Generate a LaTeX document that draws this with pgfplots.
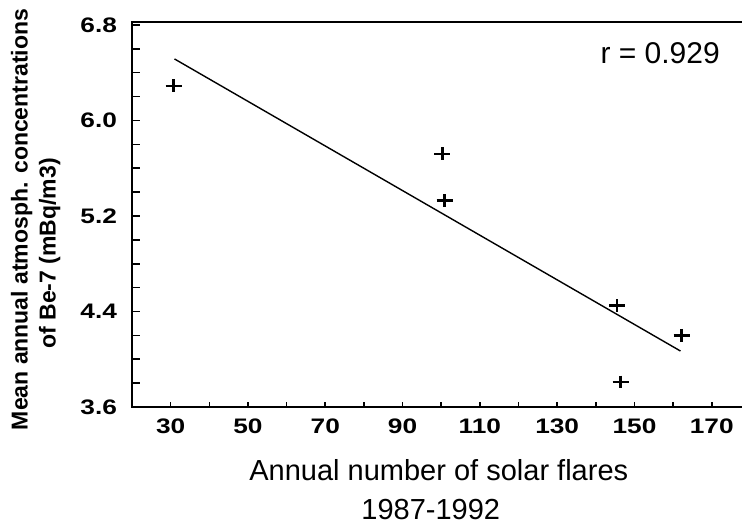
\documentclass[border=0pt]{standalone}
\usepackage{fontspec}
\setmainfont{Liberation Sans}
\newfontfamily\ticfont{Liberation Sans}[FakeStretch=1.25]
\usepackage{pgfplots}
\pgfplotsset{compat=1.18}
\begin{document}
\begin{tikzpicture}
\path[use as bounding box] (-66pt,-59.5pt) rectangle (305pt,203.5pt);
\begin{axis}[
  x=1.9325pt, y=59.7pt,
  xmin=20, xmax=182, ymin=3.6, ymax=6.825,
  axis line style={line width=1pt},
  xtick={30,50,70,90,110,130,150,170},
  xticklabels={30,50,70,90,110,130,150,170},
  minor xtick={40,60,80,100,120,140,160,180},
  ytick={3.6,4.4,5.2,6.0,6.8},
  yticklabels={3.6,4.4,5.2,6.0,6.8},
  minor ytick={3.8,4.0,4.2,4.6,4.8,5.0,5.4,5.6,5.8,6.2,6.4,6.6},
  xtick pos=bottom, ytick pos=left,
  tick align=inside,
  major tick length=4pt, minor tick length=4pt,
  xtick style={/pgfplots/major tick length=2.5pt, /pgfplots/minor tick length=2.5pt},
  tick style={line width=0.8pt, black},
  ticklabel style={font=\ticfont\bfseries\fontsize{10.5}{12}\selectfont},
  xticklabel style={yshift=-2.5pt},
  yticklabel style={xshift=-4pt},
  xlabel={Annual number of solar flares\\1987-1992\hspace*{8pt}},
  xlabel style={at={(axis description cs:0.49,0)}, anchor=north, yshift=-22.5pt,
    align=center, font=\fontsize{14.5}{19.5}\selectfont},
  ylabel={Mean annual atmosph. concentrations\\of Be-7 (mBq/m3)\hspace*{34pt}},
  ylabel style={at={(axis description cs:0,0.487)}, anchor=north, yshift=64pt,
    align=center, font=\bfseries\fontsize{11.5}{14}\selectfont},
  clip=false,
]
\addplot[black, line width=0.7pt, no marks] coordinates {(31.0,6.515) (161.9,4.069)};
\addplot[only marks, mark=+, mark size=4pt, mark options={black, line width=1.3pt, yscale=0.8}]
  coordinates {
    (30.8,6.29)
    (100.3,5.72)
    (100.9,5.33)
    (145.5,4.45)
    (162.2,4.20)
    (146.4,3.81)
  };
\node[anchor=base east, font=\fontsize{15}{18}\selectfont] at (axis cs:173.9,6.473) {r = 0.929};
\end{axis}
\end{tikzpicture}
\end{document}
